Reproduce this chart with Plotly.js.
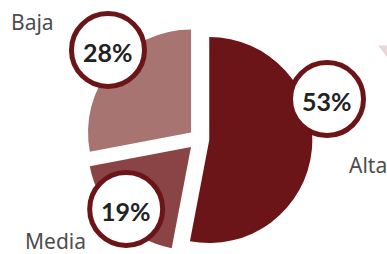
<!DOCTYPE html>
<html>
<head>
<meta charset="utf-8">
<script src="https://cdn.plot.ly/plotly-3.0.1.min.js"></script>
<style>html,body{margin:0;padding:0;background:#fff;}#chart{width:387px;height:254px;}</style>
</head>
<body>
<div id="chart"></div>
<script>
// Data
const categories = ['Alta', 'Media', 'Baja'];
const values = [53, 19, 28];
const sliceColors = ['#6c1518', '#8a4446', '#a77472'];

// Decoration placement (paper coords) for the percentage badges and category labels
const badgePos = { Alta: [0.845, 0.61], Media: [0.326, 0.177], Baja: [0.279, 0.803] };
const labelPos = { Alta: [347, 165], Media: [23, 241], Baja: [9, 22] };

const W = 387, H = 254;
const total = values.reduce((a, b) => a + b, 0);

const trace = {
  type: 'pie',
  labels: categories,
  values: values,
  sort: false,
  direction: 'clockwise',
  rotation: 0,
  pull: [0.1, 0.11, 0.1],
  marker: { colors: sliceColors, line: { width: 0 } },
  textinfo: 'none',
  hoverinfo: 'label+percent',
  showlegend: false,
  domain: { x: [0.2186, 0.8098], y: [0.0024, 0.903] }
};

const shapes = [];
const annotations = [];
const R = 36.5;
categories.forEach((c, i) => {
  const p = badgePos[c];
  shapes.push({
    type: 'circle', xref: 'paper', yref: 'paper',
    xsizemode: 'pixel', ysizemode: 'pixel',
    xanchor: p[0], yanchor: p[1],
    x0: -R, x1: R, y0: -R, y1: R,
    fillcolor: '#ffffff', line: { color: '#6c1518', width: 5 }, layer: 'above'
  });
  annotations.push({
    xref: 'paper', yref: 'paper', x: p[0], y: p[1] - 0.006,
    xanchor: 'center', yanchor: 'middle', showarrow: false,
    text: Math.round(values[i] / total * 100) + '%',
    font: { family: 'Lato, sans-serif', size: 25, color: '#222222', weight: 700 }
  });
  const lp = labelPos[c];
  annotations.push({
    xref: 'paper', yref: 'paper', x: lp[0] / W, y: 1 - lp[1] / H,
    xanchor: 'left', yanchor: 'middle', showarrow: false,
    text: c,
    font: { family: 'Noto Sans, sans-serif', size: 21, color: '#4d4d4d' }
  });
});

// small decorative triangle at top right
shapes.push({
  type: 'path', xref: 'paper', yref: 'paper',
  path: 'M 0.977 0.821 L 1 0.821 L 1 0.776 Z',
  fillcolor: '#e9d6d8', line: { width: 0 }
});

const layout = {
  width: W, height: H,
  margin: { l: 0, r: 0, t: 0, b: 0 },
  paper_bgcolor: '#ffffff',
  plot_bgcolor: '#ffffff',
  shapes: shapes,
  annotations: annotations,
  showlegend: false
};

Plotly.newPlot('chart', [trace], layout, { displayModeBar: false, staticPlot: true });
</script>
</body>
</html>
